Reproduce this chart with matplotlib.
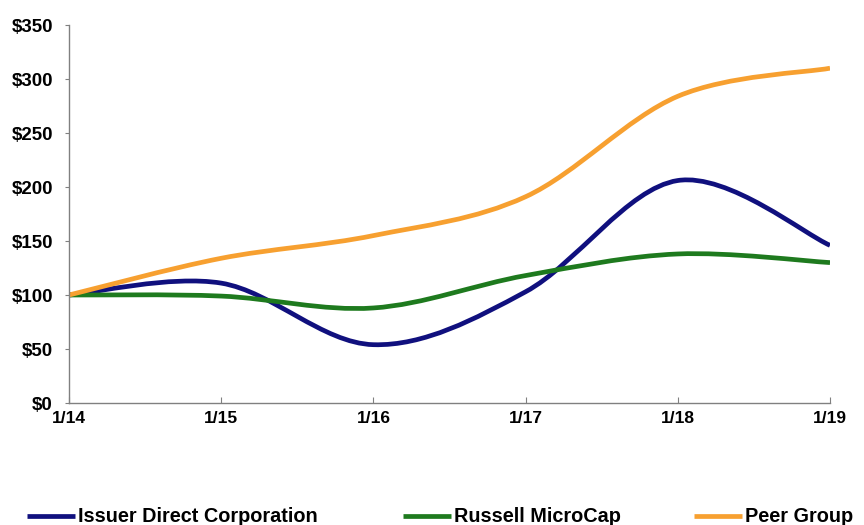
import matplotlib
matplotlib.use("Agg")
import matplotlib.pyplot as plt
from matplotlib.path import Path
from matplotlib.patches import PathPatch
from matplotlib.lines import Line2D
import numpy as np

plt.rcParams['font.family'] = ['Liberation Sans', 'DejaVu Sans']

dates = ["1/14", "1/15", "1/16", "1/17", "1/18", "1/19"]
issuer = [100, 111, 54, 103, 206, 146]
russell = [100, 99, 88, 118, 138, 130]
peer = [100, 134, 155, 191, 284, 310]
series_names = ["Issuer Direct Corporation", "Russell MicroCap", "Peer Group"]
colors = ["#10107e", "#1e7a1e", "#f7a030"]
yticks = [0, 50, 100, 150, 200, 250, 300, 350]


def smooth_path(xs, ys):
    pts = np.column_stack([xs, ys]).astype(float)
    n = len(pts)
    verts = [pts[0]]
    codes = [Path.MOVETO]
    for i in range(n - 1):
        p_prev = pts[max(i - 1, 0)]
        p0 = pts[i]
        p1 = pts[i + 1]
        p_next = pts[min(i + 2, n - 1)]
        c1 = p0 + (p1 - p_prev) / 6.0
        c2 = p1 - (p_next - p0) / 6.0
        verts += [c1, c2, p1]
        codes += [Path.CURVE4] * 3
    return Path(verts, codes)


fig = plt.figure(figsize=(8.64, 5.25), dpi=100)
ax = fig.add_axes([69 / 864, 1 - 403 / 525, (830 - 69) / 864, (403 - 25) / 525])

x = np.arange(len(dates))
handles = []
for ys, c, name in zip([issuer, russell, peer], colors, series_names):
    patch = PathPatch(smooth_path(x, ys), facecolor="none", edgecolor=c,
                      lw=3.4, capstyle="butt", joinstyle="round")
    ax.add_patch(patch)
    handles.append(Line2D([], [], color=c, lw=3.4, solid_capstyle="butt"))

ax.set_xlim(0, len(dates) - 1)
ax.set_ylim(0, 350)
ax.set_xticks(x)
ax.set_xticklabels(dates, fontsize=12.5, fontweight="bold")
ax.set_yticks(yticks)
ax.set_yticklabels([f"${v}" for v in yticks], fontsize=13.5, fontweight="bold")
for s in ["top", "right"]:
    ax.spines[s].set_visible(False)
for s in ["left", "bottom"]:
    ax.spines[s].set_color("#808080")
    ax.spines[s].set_linewidth(1.0)
ax.tick_params(axis="x", direction="in", length=4, color="#808080", pad=6)
ax.tick_params(axis="y", direction="out", length=3, color="#808080", pad=8.5)

leg_x = [27 / 864, 403 / 864, 694 / 864]
for h, name, lx in zip(handles, series_names, leg_x):
    fig.legend([h], [name], loc="center left", bbox_to_anchor=(lx, 1 - 517 / 525),
               frameon=False, prop={"size": 14.3, "weight": "bold"},
               handlelength=2.4, handletextpad=0.15, borderpad=0, borderaxespad=0)

fig.savefig("out.png", dpi=100)
